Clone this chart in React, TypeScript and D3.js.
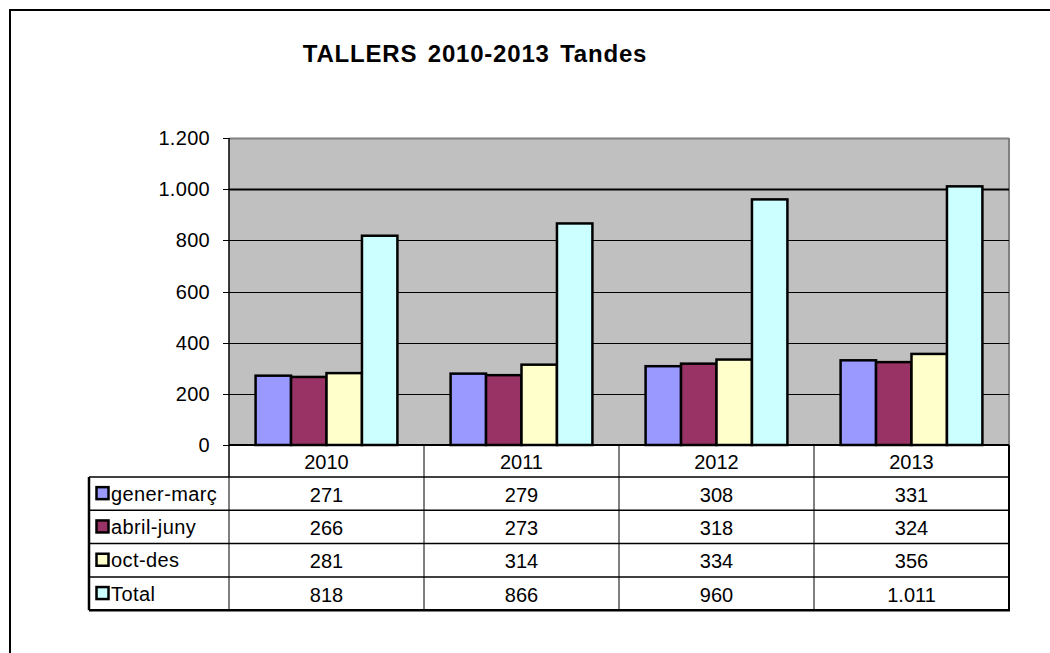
import React from 'react';
import * as d3 from 'd3';

// data
const years = ['2010', '2011', '2012', '2013'];
const seriesNames = ['gener-març', 'abril-juny', 'oct-des', 'Total'];
const generMarc = [271, 279, 308, 331];
const abrilJuny = [266, 273, 318, 324];
const octDes = [281, 314, 334, 356];
const total = [818, 866, 960, 1011];
const yTicks = [0, 200, 400, 600, 800, 1000, 1200];

const seriesValues = [generMarc, abrilJuny, octDes, total];
const colors = ['#9999FF', '#993366', '#FFFFCC', '#CCFFFF'];

const W = 1050;
const H = 653;
const plot = { left: 229, right: 1009, top: 138, bottom: 445 };
const table = { left: 89, headerBottom: 477, rowH: 33.3 };
const font = '"Liberation Sans", Arial, sans-serif';

const fmt = d3.formatLocale({ decimal: ',', thousands: '.', grouping: [3], currency: ['', '€'] }).format(',d');

const App = () => {
  const x = d3.scaleBand<string>().domain(years).range([plot.left, plot.right]);
  const xs = d3.scaleBand<string>().domain(seriesNames).range([0, x.bandwidth()]).paddingInner(0).paddingOuter(0.75);
  const y = d3.scaleLinear().domain([0, 1200]).range([plot.bottom, plot.top]);

  const rowTop = (i: number) => table.headerBottom + i * table.rowH;
  const tableBottom = rowTop(seriesNames.length);

  return (
    <svg width={W} height={H} style={{ position: 'absolute', left: 0, top: 0, background: '#fff' }} fontFamily={font}>
      {/* outer chart border */}
      <rect x={10} y={10} width={1100} height={700} fill="#fff" stroke="#000" strokeWidth={2} />

      <text x={475} y={62} textAnchor="middle" fontSize={24} fontWeight="bold" letterSpacing={0.8} wordSpacing={3}>
        TALLERS 2010-2013 Tandes
      </text>

      {/* plot area */}
      <rect x={plot.left} y={plot.top} width={plot.right - plot.left} height={plot.bottom - plot.top} fill="#C0C0C0" />
      <line x1={plot.left} x2={plot.right} y1={plot.top + 0.5} y2={plot.top + 0.5} stroke="#808080" strokeWidth={2} />
      <line x1={plot.right} x2={plot.right} y1={plot.top} y2={plot.bottom} stroke="#808080" strokeWidth={2} />

      {yTicks.filter(t => t > 0 && t < 1200).map(t => (
        <line key={t} x1={plot.left} x2={plot.right} y1={Math.round(y(t)) + 0.5} y2={Math.round(y(t)) + 0.5}
          stroke="#000" strokeWidth={t === 1000 ? 2 : 1} />
      ))}

      {/* bars */}
      {years.map((yr, gi) => (
        <g key={yr}>
          {seriesNames.map((s, si) => {
            const v = seriesValues[si][gi];
            const bx = (x(yr) as number) + (xs(s) as number);
            return (
              <rect key={s} x={bx} y={y(v)} width={xs.bandwidth()} height={y(0) - y(v)}
                fill={colors[si]} stroke="#000" strokeWidth={2.5} />
            );
          })}
        </g>
      ))}

      {/* y axis */}
      <line x1={plot.left} x2={plot.left} y1={plot.top} y2={table.headerBottom} stroke="#000" strokeWidth={1.5} />
      {yTicks.map(t => (
        <g key={t}>
          <line x1={plot.left - 6} x2={plot.left} y1={Math.round(y(t)) + 0.5} y2={Math.round(y(t)) + 0.5} stroke="#000" />
          <text x={210} y={y(t)} dy="0.35em" textAnchor="end" fontSize={20} letterSpacing={0.3}>{fmt(t)}</text>
        </g>
      ))}
      <line x1={plot.left} x2={plot.right} y1={plot.bottom} y2={plot.bottom} stroke="#000" strokeWidth={2} />

      {/* data table */}
      {years.map(yr => (
        <text key={yr} x={(x(yr) as number) + x.bandwidth() / 2} y={(plot.bottom + table.headerBottom) / 2 + 1}
          dy="0.35em" textAnchor="middle" fontSize={20}>{yr}</text>
      ))}
      {years.map((yr, gi) => (
        <line key={yr} x1={(x(yr) as number) + x.bandwidth()} x2={(x(yr) as number) + x.bandwidth()}
          y1={plot.bottom} y2={tableBottom} stroke="#000" strokeWidth={gi === years.length - 1 ? 2 : 1} />
      ))}
      {seriesNames.map((s, si) => (
        <line key={s} x1={table.left} x2={plot.right} y1={rowTop(si)} y2={rowTop(si)} stroke="#000" strokeWidth={1.5} />
      ))}
      <line x1={table.left} x2={plot.right + 1} y1={tableBottom} y2={tableBottom} stroke="#000" strokeWidth={2.5} />
      <line x1={table.left} x2={table.left} y1={table.headerBottom} y2={tableBottom} stroke="#000" strokeWidth={2.5} />
      <line x1={plot.left} x2={plot.left} y1={table.headerBottom} y2={tableBottom} stroke="#000" strokeWidth={1} />

      {seriesNames.map((s, si) => {
        const cy = rowTop(si) + table.rowH / 2;
        return (
          <g key={s}>
            <rect x={96.5} y={cy - 6.5} width={12} height={12} fill={colors[si]} stroke="#000" strokeWidth={2.5} />
            <text x={111} y={cy} dy="0.35em" fontSize={20} letterSpacing={0.4}>{s}</text>
            {years.map((yr, gi) => (
              <text key={yr} x={(x(yr) as number) + x.bandwidth() / 2} y={cy + 1} dy="0.35em"
                textAnchor="middle" fontSize={20}>{fmt(seriesValues[si][gi])}</text>
            ))}
          </g>
        );
      })}
    </svg>
  );
};

export default App;
